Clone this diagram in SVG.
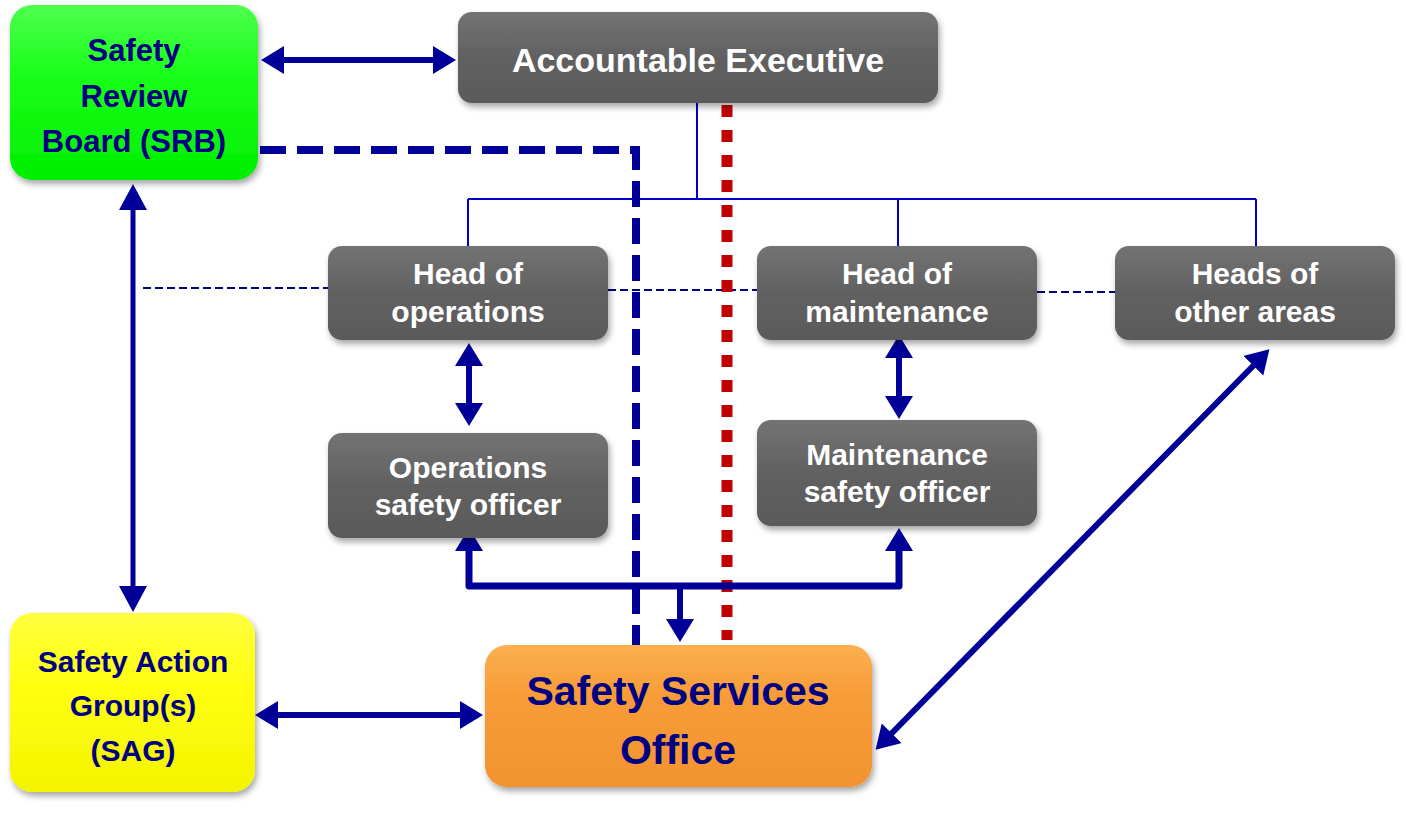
<svg xmlns="http://www.w3.org/2000/svg" width="1406" height="822" viewBox="0 0 1406 822">
<style>
.t{font-family:"Liberation Sans",Arial,sans-serif;font-weight:bold;text-anchor:middle}
.w{fill:#ffffff}
.n{fill:#000080}
.thick{stroke:#000099;fill:none}
.tree{stroke:#0000CC;stroke-width:2;fill:none}
.thin{stroke:#000080;stroke-width:2;stroke-dasharray:8 4;fill:none}
</style>
<defs>
<linearGradient id="gGrey" x1="0" y1="0" x2="0" y2="1">
<stop offset="0" stop-color="#737373"/>
<stop offset="0.5" stop-color="#616161"/>
<stop offset="1" stop-color="#5a5a5a"/>
</linearGradient>
<linearGradient id="gGreen" x1="0" y1="0" x2="0" y2="1">
<stop offset="0" stop-color="#4dff4d"/>
<stop offset="0.4" stop-color="#1aff1a"/>
<stop offset="1" stop-color="#00ee00"/>
</linearGradient>
<linearGradient id="gYellow" x1="0" y1="0" x2="0" y2="1">
<stop offset="0" stop-color="#ffff40"/>
<stop offset="0.4" stop-color="#ffff10"/>
<stop offset="1" stop-color="#f4f400"/>
</linearGradient>
<linearGradient id="gOrange" x1="0" y1="0" x2="0" y2="1">
<stop offset="0" stop-color="#fbb050"/>
<stop offset="0.35" stop-color="#f89c38"/>
<stop offset="1" stop-color="#f29330"/>
</linearGradient>
<filter id="sh" x="-10%" y="-10%" width="125%" height="130%">
<feDropShadow dx="2" dy="4" stdDeviation="3" flood-color="#000" flood-opacity="0.35"/>
</filter>
<marker id="ah" markerUnits="userSpaceOnUse" markerWidth="26" markerHeight="30" refX="1" refY="14" orient="auto-start-reverse">
<path d="M0,0 L23,14 L0,28 z" fill="#000099"/>
</marker>
<marker id="ahL" markerUnits="userSpaceOnUse" markerWidth="30" markerHeight="30" refX="1" refY="14" orient="auto-start-reverse">
<path d="M0,0 L26,14 L0,28 z" fill="#000099"/>
</marker>
</defs>
<rect width="1406" height="822" fill="#ffffff"/>

<g id="connectors">
<path class="tree" d="M697,103 V199 M468,199 H1256 M468,199 V246 M898,199 V246 M1256,199 V246"/>
<path class="thin" d="M143,288 H328 M608,290 H757 M1037,292 H1115"/>
<path d="M260,150 H636 V645" stroke="#000099" stroke-width="8" fill="none" stroke-dasharray="26 11"/>
<path d="M727,105 V640" stroke="#C00000" stroke-width="11" fill="none" stroke-dasharray="12 13"/>
<line class="thick" x1="283" y1="60" x2="434" y2="60" stroke-width="6" marker-start="url(#ah)" marker-end="url(#ah)"/>
<line class="thick" x1="133" y1="209" x2="133" y2="587" stroke-width="5" marker-start="url(#ahL)" marker-end="url(#ahL)"/>
<line class="thick" x1="469" y1="365" x2="469" y2="404" stroke-width="6" marker-start="url(#ah)" marker-end="url(#ah)"/>
<line class="thick" x1="899" y1="357" x2="899" y2="397" stroke-width="6" marker-start="url(#ah)" marker-end="url(#ah)"/>
<path class="thick" d="M469,550 V586 H899 V550" stroke-width="7" stroke-linejoin="round" marker-start="url(#ah)" marker-end="url(#ah)"/>
<line class="thick" x1="680" y1="586" x2="680" y2="620" stroke-width="6" marker-end="url(#ah)"/>
<line class="thick" x1="277" y1="715" x2="461" y2="715" stroke-width="6" marker-start="url(#ah)" marker-end="url(#ah)"/>
<line class="thick" x1="891" y1="734" x2="1254" y2="365" stroke-width="6" marker-start="url(#ah)" marker-end="url(#ah)"/>
</g>

<g id="srb">
<rect x="10" y="5" width="248" height="175" rx="22" fill="url(#gGreen)" filter="url(#sh)"/>
<text class="t n" font-size="31" x="134" y="61">Safety</text>
<text class="t n" font-size="31" x="134" y="107">Review</text>
<text class="t n" font-size="31" x="134" y="152">Board (SRB)</text>
</g>

<g id="ae">
<rect x="458" y="12" width="480" height="91" rx="14" fill="url(#gGrey)" filter="url(#sh)"/>
<text class="t w" font-size="34" x="698" y="72">Accountable Executive</text>
</g>

<g id="hoo">
<rect x="328" y="246" width="280" height="94" rx="14" fill="url(#gGrey)" filter="url(#sh)"/>
<text class="t w" font-size="30" x="468" y="284">Head of</text>
<text class="t w" font-size="30" x="468" y="322">operations</text>
</g>

<g id="hom">
<rect x="757" y="246" width="280" height="94" rx="14" fill="url(#gGrey)" filter="url(#sh)"/>
<text class="t w" font-size="30" x="897" y="284">Head of</text>
<text class="t w" font-size="30" x="897" y="322">maintenance</text>
</g>

<g id="hoa">
<rect x="1115" y="246" width="280" height="94" rx="14" fill="url(#gGrey)" filter="url(#sh)"/>
<text class="t w" font-size="30" x="1255" y="284">Heads of</text>
<text class="t w" font-size="30" x="1255" y="322">other areas</text>
</g>

<g id="oso">
<rect x="328" y="433" width="280" height="105" rx="14" fill="url(#gGrey)" filter="url(#sh)"/>
<text class="t w" font-size="30" x="468" y="478">Operations</text>
<text class="t w" font-size="30" x="468" y="515">safety officer</text>
</g>

<g id="mso">
<rect x="757" y="420" width="280" height="106" rx="14" fill="url(#gGrey)" filter="url(#sh)"/>
<text class="t w" font-size="30" x="897" y="465">Maintenance</text>
<text class="t w" font-size="30" x="897" y="502">safety officer</text>
</g>

<g id="sag">
<rect x="10" y="613" width="245" height="179" rx="22" fill="url(#gYellow)" filter="url(#sh)"/>
<text class="t n" font-size="30" x="133" y="672">Safety Action</text>
<text class="t n" font-size="30" x="133" y="716">Group(s)</text>
<text class="t n" font-size="30" x="133" y="761">(SAG)</text>
</g>

<g id="sso">
<rect x="485" y="645" width="387" height="142" rx="22" fill="url(#gOrange)" filter="url(#sh)"/>
<text class="t n" font-size="41" x="678" y="705">Safety Services</text>
<text class="t n" font-size="41" x="678" y="764">Office</text>
</g>
</svg>
